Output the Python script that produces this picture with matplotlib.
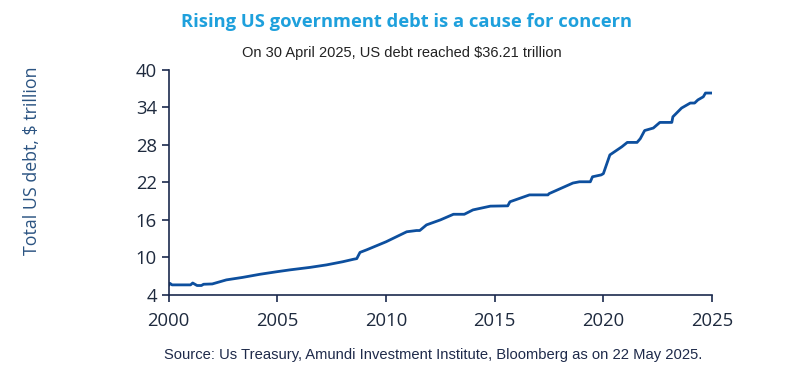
import matplotlib
matplotlib.use("Agg")
import matplotlib.pyplot as plt

# debt path (decimal year, $ trillion)
years = [2000.0, 2000.05, 2000.15, 2000.6, 2001.0, 2001.1, 2001.3, 2001.5, 2001.6, 2002.0,
         2002.65, 2003.4, 2004.2, 2004.96, 2005.57, 2006.5, 2007.26, 2008.0, 2008.5, 2008.65,
         2008.8, 2009.1, 2010.0, 2010.95, 2011.4, 2011.55, 2011.86, 2012.5, 2013.1, 2013.6,
         2014.0, 2014.8, 2015.6, 2015.7, 2016.6, 2017.45, 2017.5, 2018.6, 2018.9, 2019.4,
         2019.5, 2019.9, 2020.0, 2020.3, 2020.85, 2021.1, 2021.55, 2021.7, 2021.9, 2022.3,
         2022.6, 2023.15, 2023.2, 2023.6, 2024.0, 2024.2, 2024.35, 2024.6, 2024.7, 2025.05]
debt = [5.6, 5.85, 5.6, 5.6, 5.6, 5.9, 5.5, 5.5, 5.7, 5.75,
        6.4, 6.8, 7.3, 7.7, 8.0, 8.4, 8.8, 9.3, 9.7, 9.8,
        10.8, 11.2, 12.5, 14.1, 14.3, 14.3, 15.2, 16.0, 16.9, 16.9,
        17.6, 18.2, 18.25, 18.9, 20.0, 20.0, 20.2, 21.9, 22.1, 22.1,
        22.9, 23.2, 23.4, 26.4, 27.7, 28.4, 28.4, 29.0, 30.3, 30.7,
        31.6, 31.6, 32.5, 33.9, 34.7, 34.7, 35.2, 35.7, 36.3, 36.3]

xticks = [2000, 2005, 2010, 2015, 2020, 2025]
yticks = [4, 10, 16, 22, 28, 34, 40]

navy = "#1b2a4e"
fig = plt.figure(figsize=(8, 3.8), dpi=100)
ax = fig.add_axes([0.211, 0.224, 0.679, 0.592])

ax.plot(years, debt, color="#0d4f9e", lw=2.0, solid_joinstyle="round")

ax.set_xlim(2000, 2025)
ax.set_ylim(4, 40)
ax.set_xticks(xticks)
ax.set_yticks(yticks)
ax.spines["top"].set_visible(False)
ax.spines["right"].set_visible(False)
for s in ("left", "bottom"):
    ax.spines[s].set_color(navy)
    ax.spines[s].set_linewidth(1.2)
ax.tick_params(colors=navy, length=5, width=1.2, labelsize=13.3, labelcolor="#1e2a3e")
for lbl in ax.get_xticklabels() + ax.get_yticklabels():
    lbl.set_fontfamily("Open Sans")
ax.tick_params(axis="x", pad=7)

fig.text(0.04, 0.577, "Total US debt, $ trillion", rotation=90, ha="center", va="center",
         fontsize=12.8, color="#2b5482", family="Open Sans")

fig.text(0.508, 0.942, "Rising US government debt is a cause for concern", ha="center", va="center",
         fontsize=13.2, fontweight="bold", color="#1ea0dc", family="Open Sans")
fig.text(0.502, 0.86, "On 30 April 2025, US debt reached $36.21 trillion", ha="center", va="center",
         fontsize=10.5, color="#222222", family="Liberation Sans")
fig.text(0.541, 0.066, "Source: Us Treasury, Amundi Investment Institute, Bloomberg as on 22 May 2025.",
         ha="center", va="center", fontsize=10.6, color="#1e2a4a", family="Liberation Sans")

fig.savefig("out.png", dpi=100)
